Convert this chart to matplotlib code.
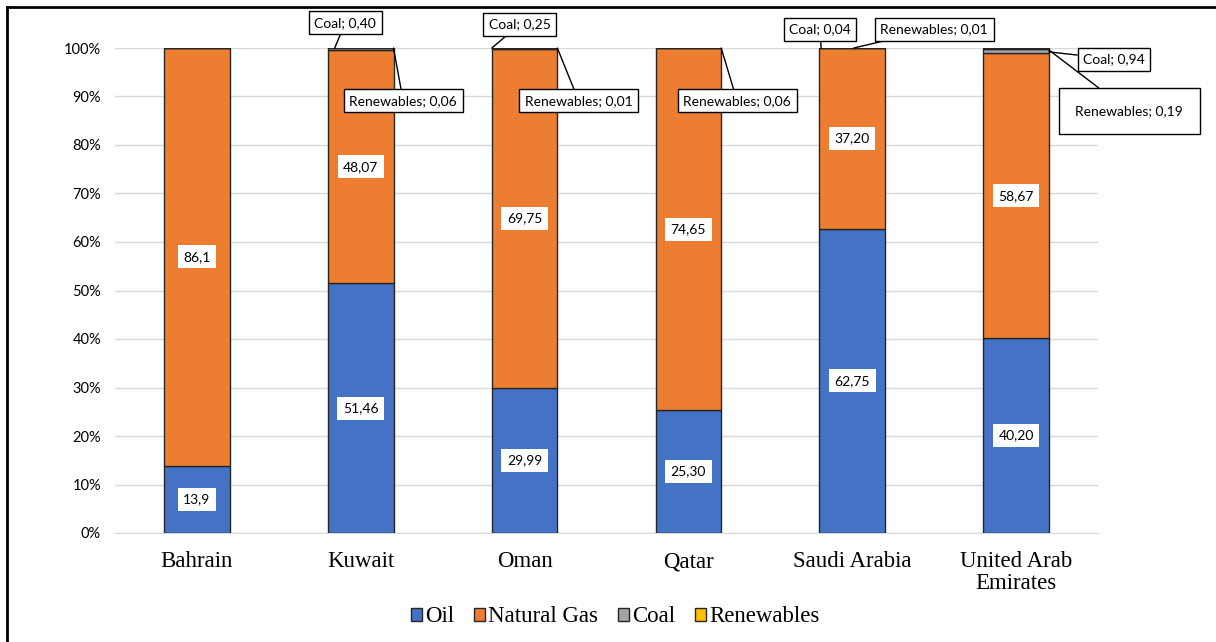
import matplotlib
matplotlib.use("Agg")
import matplotlib.pyplot as plt
import numpy as np
from matplotlib.lines import Line2D
from matplotlib.font_manager import FontProperties

countries = ["Bahrain", "Kuwait", "Oman", "Qatar", "Saudi Arabia", "United Arab\nEmirates"]
oil = [13.9, 51.46, 29.99, 25.30, 62.75, 40.20]
gas = [86.1, 48.07, 69.75, 74.65, 37.20, 58.67]
coal = [0.0, 0.40, 0.25, 0.0, 0.04, 0.94]
renew = [0.0, 0.06, 0.01, 0.06, 0.01, 0.19]

oil_lbl = ["13,9", "51,46", "29,99", "25,30", "62,75", "40,20"]
gas_lbl = ["86,1", "48,07", "69,75", "74,65", "37,20", "58,67"]
coal_lbl = [None, "0,40", "0,25", None, "0,04", "0,94"]
ren_lbl = [None, "0,06", "0,01", "0,06", "0,01", "0,19"]

colors = {"Oil": "#4472C4", "Natural Gas": "#ED7D31", "Coal": "#A5A5A5", "Renewables": "#FFC000"}

fig = plt.figure(figsize=(12.16, 6.42), dpi=100)
ax = fig.add_axes([115/1216, (642-533)/642, (1098-115)/1216, (533-48)/642])

x = np.arange(len(countries))
w = 0.4
oil_a = np.array(oil); gas_a = np.array(gas); coal_a = np.array(coal); ren_a = np.array(renew)
ek = dict(edgecolor="#262626", linewidth=1.0, zorder=3)
ax.bar(x, oil_a, w, color=colors["Oil"], **ek)
ax.bar(x, gas_a, w, bottom=oil_a, color=colors["Natural Gas"], **ek)
ax.bar(x, coal_a, w, bottom=oil_a + gas_a, color=colors["Coal"], **ek)
ax.bar(x, ren_a, w, bottom=oil_a + gas_a + coal_a, color=colors["Renewables"], **ek)

ax.set_xlim(-0.5, len(countries) - 0.5)
ax.set_ylim(0, 100)
ax.set_yticks(np.arange(0, 101, 10))
ax.set_yticklabels([f"{v}%" for v in range(0, 101, 10)], fontfamily="Lato", fontsize=10.5)
ax.set_xticks(x)
serif = FontProperties(family="Liberation Serif", size=16.5)
ax.set_xticklabels(countries, fontproperties=serif, linespacing=1.05)
ax.tick_params(axis="both", length=0)
ax.tick_params(axis="y", pad=10)
ax.tick_params(axis="x", pad=13)
ax.grid(axis="y", color="#D9D9D9", linewidth=1.0, zorder=0)
for s in ["left", "right", "top"]:
    ax.spines[s].set_visible(False)
ax.spines["bottom"].set_color("#D9D9D9")

lblfont = dict(fontfamily="Lato", fontsize=10)
for i in range(len(countries)):
    ax.text(x[i], oil[i] / 2, oil_lbl[i], ha="center", va="center", zorder=5,
            bbox=dict(boxstyle="square,pad=0.4", fc="white", ec="none"), **lblfont)
    ax.text(x[i], oil[i] + gas[i] / 2, gas_lbl[i], ha="center", va="center", zorder=5,
            bbox=dict(boxstyle="square,pad=0.4", fc="white", ec="none"), **lblfont)

# callout label positions (offsets from bar center, in data units)
coal_pos = {1: (-0.094, 105.2), 2: (-0.029, 104.9), 4: (-0.197, 103.9), 5: (0.598, 97.7)}
ren_pos = {1: (0.259, 89.1), 2: (0.33, 89.1), 3: (0.297, 89.1), 4: (0.50, 103.9), 5: (0.69, 87.0)}
coal_anchor = {1: -0.16, 2: -0.2, 4: -0.19, 5: 0.2}
ren_anchor = {1: 0.2, 2: 0.2, 3: 0.2, 4: 0.01, 5: 0.2}

box = dict(boxstyle="square,pad=0.4", fc="white", ec="black", lw=1.0)
for i, (dx, yy) in coal_pos.items():
    top = oil[i] + gas[i] + coal[i]
    ax.annotate(f"Coal; {coal_lbl[i]}", xy=(x[i] + coal_anchor[i], top if i != 5 else 99.2),
                xytext=(x[i] + dx, yy), ha="center", va="center", bbox=box,
                arrowprops=dict(arrowstyle="-", color="black", lw=1.0, shrinkA=0, shrinkB=0),
                annotation_clip=False, zorder=6, **lblfont)
for i, (dx, yy) in ren_pos.items():
    top = oil[i] + gas[i] + coal[i] + renew[i]
    b = dict(box)
    if i == 5:
        b = dict(boxstyle="square,pad=1.2", fc="white", ec="black", lw=1.0)
    ax.annotate(f"Renewables; {ren_lbl[i]}", xy=(x[i] + ren_anchor[i], top if i != 5 else 99.6),
                xytext=(x[i] + dx, yy), ha="center", va="center", bbox=b,
                arrowprops=dict(arrowstyle="-", color="black", lw=1.0, shrinkA=0, shrinkB=0),
                annotation_clip=False, zorder=6, **lblfont)

handles = [plt.Rectangle((0, 0), 1, 1, fc=colors[k], ec="#262626", lw=1.0) for k in colors]
leg = fig.legend(handles, list(colors.keys()), loc="center", bbox_to_anchor=(615/1216, 1 - 617/642),
                 ncol=4, frameon=False, prop=FontProperties(family="Liberation Serif", size=16.5),
                 handlelength=0.48, handleheight=0.48, handletextpad=0.15, columnspacing=0.85)

# figure frame (top and left edges)
fig.add_artist(Line2D([7/1216, 7/1216], [0, 1 - 7/642], transform=fig.transFigure, color="black", lw=2))
fig.add_artist(Line2D([7/1216, 1], [1 - 7/642, 1 - 7/642], transform=fig.transFigure, color="black", lw=2))

fig.savefig("out.png", dpi=100)
